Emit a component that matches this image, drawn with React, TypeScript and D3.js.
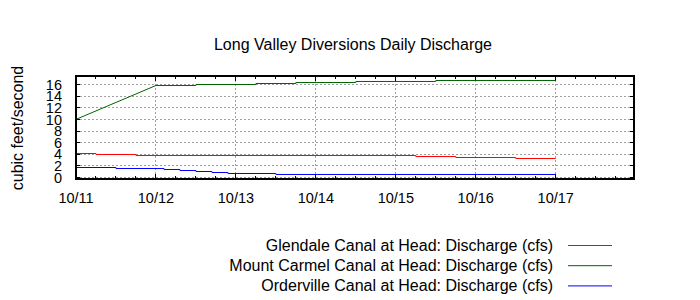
import React from "react";
import * as d3 from "d3";

// ---------- data ----------
const title = "Long Valley Diversions Daily Discharge";
const yLabel = "cubic feet/second";
const domainStart = "2012-10-11 00:00";
const domainEnd = "2012-10-17 23:30";
const dayTicks = ["2012-10-11 00:00", "2012-10-12 00:00", "2012-10-13 00:00", "2012-10-14 00:00", "2012-10-15 00:00", "2012-10-16 00:00", "2012-10-17 00:00"];
const yTicks = [0, 2, 4, 6, 8, 10, 12, 14, 16];

const seriesNames = [
  "Glendale Canal at Head: Discharge (cfs)",
  "Mount Carmel Canal at Head: Discharge (cfs)",
  "Orderville Canal at Head: Discharge (cfs)",
];
const seriesColors = ["#ff0000", "#006400", "#0000ff"];

const glendaleTimes = ["2012-10-11 00:00", "2012-10-11 06:00", "2012-10-11 06:00", "2012-10-11 18:00", "2012-10-11 18:00", "2012-10-15 06:00", "2012-10-15 06:00", "2012-10-15 18:00", "2012-10-15 18:00", "2012-10-16 12:00", "2012-10-16 12:00", "2012-10-17 00:00"];
const glendaleValues = [4.13, 4.13, 3.96, 3.96, 3.78, 3.78, 3.61, 3.61, 3.44, 3.44, 3.27, 3.27];

const carmelTimes = ["2012-10-11 00:00", "2012-10-12 00:00", "2012-10-12 12:00", "2012-10-12 12:00", "2012-10-13 06:00", "2012-10-13 06:00", "2012-10-13 18:00", "2012-10-13 18:00", "2012-10-14 12:00", "2012-10-14 12:00", "2012-10-15 12:00", "2012-10-15 12:00", "2012-10-17 00:00"];
const carmelValues = [10.0, 15.83, 15.83, 16.0, 16.0, 16.17, 16.17, 16.34, 16.34, 16.52, 16.52, 16.69, 16.69];

const ordervilleTimes = ["2012-10-11 00:00", "2012-10-11 12:00", "2012-10-11 12:00", "2012-10-12 02:24", "2012-10-12 02:24", "2012-10-12 07:12", "2012-10-12 07:12", "2012-10-12 12:00", "2012-10-12 12:00", "2012-10-12 16:48", "2012-10-12 16:48", "2012-10-12 21:36", "2012-10-12 21:36", "2012-10-13 12:00", "2012-10-13 12:00", "2012-10-17 00:00"];
const ordervilleValues = [1.72, 1.72, 1.55, 1.55, 1.38, 1.38, 1.2, 1.2, 1.03, 1.03, 0.86, 0.86, 0.69, 0.69, 0.52, 0.52];

// ---------- chart ----------
const parse = d3.timeParse("%Y-%m-%d %H:%M");
const FONT = "'Liberation Sans', Arial, sans-serif";

export default function App() {
  const W = 700, H = 300;
  const left = 76, right = 634, top = 76, bottom = 179;

  const x = d3.scaleTime().domain([parse(domainStart)!, parse(domainEnd)!]).range([left, right]);
  const y = d3.scaleLinear().domain([0, 16]).range([177.5, 84.5]);

  const days = dayTicks.map((d) => parse(d)!);
  const minor = d3.timeHour.every(6)!.range(parse(domainStart)!, parse(domainEnd)!);

  const series = [
    { times: glendaleTimes, values: glendaleValues },
    { times: carmelTimes, values: carmelValues },
    { times: ordervilleTimes, values: ordervilleValues },
  ];
  const line = d3.line<[Date, number]>().x((d) => x(d[0])).y((d) => y(d[1]));
  const fmt = d3.timeFormat("%m/%d");

  return (
    <svg width={W} height={H} style={{ position: "fixed", left: 0, top: 0, background: "#fff" }} fontFamily={FONT}>
      <rect x={0} y={0} width={W} height={H} fill="#fff" />
      <text x={353} y={50} textAnchor="middle" fontSize={16}>{title}</text>

      {/* grid */}
      <g stroke="#a0a0a0" strokeWidth={1} strokeDasharray="2,2" shapeRendering="crispEdges">
        {yTicks.map((t) => (
          <line key={"gy" + t} x1={left} x2={right} y1={y(t)} y2={y(t)} />
        ))}
        {days.slice(1).map((d, i) => (
          <line key={"gx" + i} x1={x(d)} x2={x(d)} y1={top} y2={bottom} />
        ))}
      </g>

      {/* ticks */}
      <g stroke="#000" strokeWidth={1} shapeRendering="crispEdges">
        {minor.map((d, i) => (
          <g key={"mt" + i}>
            <line x1={x(d)} x2={x(d)} y1={bottom} y2={bottom - 3} />
            <line x1={x(d)} x2={x(d)} y1={top} y2={top + 3} />
          </g>
        ))}
        {days.map((d, i) => (
          <g key={"xt" + i}>
            <line x1={x(d)} x2={x(d)} y1={bottom} y2={bottom - 5} />
            <line x1={x(d)} x2={x(d)} y1={top} y2={top + 5} />
          </g>
        ))}
        {yTicks.map((t) => (
          <g key={"yt" + t}>
            <line x1={left} x2={left + 4} y1={y(t)} y2={y(t)} />
            <line x1={right} x2={right - 4} y1={y(t)} y2={y(t)} />
          </g>
        ))}
      </g>

      {/* data */}
      {series.map((s, i) => (
        <path
          key={"s" + i}
          d={line(s.times.map((t, j) => [parse(t)!, s.values[j]] as [Date, number]))!}
          fill="none"
          stroke={seriesColors[i]}
          strokeWidth={1}
        />
      ))}

      {/* border */}
      <rect x={left} y={top} width={right - left} height={bottom - top} fill="none" stroke="#000" strokeWidth={2} shapeRendering="crispEdges" />

      {/* tick labels */}
      {yTicks.map((t) => (
        <text key={"yl" + t} x={62} y={y(t)} dy="0.36em" textAnchor="end" fontSize={14.5}>{t}</text>
      ))}
      {days.map((d, i) => (
        <text key={"xl" + i} x={x(d)} y={202.5} textAnchor="middle" fontSize={14.5}>{fmt(d)}</text>
      ))}

      <text transform="translate(17,128) rotate(-90)" textAnchor="middle" dominantBaseline="central" fontSize={16}>{yLabel}</text>

      {/* legend */}
      {seriesNames.map((n, i) => (
        <g key={"lg" + i}>
          <text x={553} y={251 + i * 20.2} textAnchor="end" fontSize={16}>{n}</text>
          <line x1={568} x2={612} y1={245.5 + i * 20.2} y2={245.5 + i * 20.2} stroke={seriesColors[i]} strokeWidth={1} />
        </g>
      ))}
    </svg>
  );
}
